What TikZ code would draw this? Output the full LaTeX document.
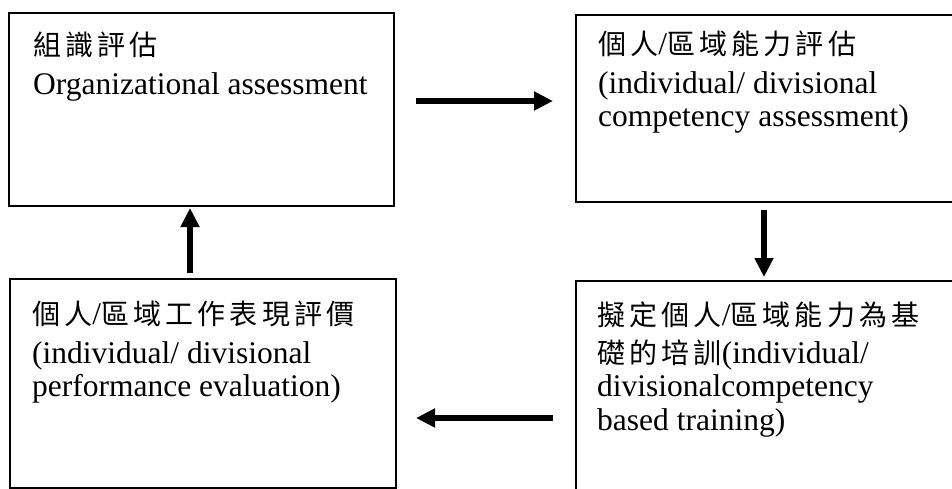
\documentclass[tikz,border=0pt]{standalone}
\usepackage{fontspec}
\setmainfont{Liberation Serif}
\newfontfamily\cjk[Scale=0.889,LetterSpace=15]{Noto Sans CJK TC}
\usetikzlibrary{arrows.meta}
\begin{document}
\begin{tikzpicture}[x=1pt,y=-1pt,
  box/.style={draw, line width=2.5pt, rectangle, inner sep=0pt},
  txt/.style={anchor=base west, align=left, inner sep=0pt,
              font=\fontsize{31.5}{33}\selectfont},
  arr/.style={line width=6pt, -{Triangle[length=19pt,width=18pt]}}]
\useasboundingbox (0,0) rectangle (952,489);
\clip (0,0) rectangle (952,489);
\fill[white] (0,0) rectangle (952,489);
% boxes
\node[box, minimum width=385pt, minimum height=193pt] (b1) at (201.5,109.5) {};
\node[box, minimum width=389pt, minimum height=187pt] (b2) at (770.5,108.5) {};
\node[box, minimum width=386pt, minimum height=209pt] (b3) at (203,383.5) {};
\node[box, minimum width=389pt, minimum height=219pt] (b4) at (770.5,390.5) {};
% texts (anchor = baseline of last line)
\node[txt] (t1) at (33,95) {{\cjk 組識評估}\\[6pt]Organizational assessment};
\node[txt] (t2) at (598,127) {{\cjk 個人}/{\cjk 區域能力評估}\\[6pt](individual/ divisional\\competency assessment)};
\node[txt] (t3) at (32,396) {{\cjk 個人}/{\cjk 區域工作表現評價}\\[6pt](individual/ divisional\\performance evaluation)};
\node[txt] (t4) at (597,430) {{\cjk 擬定個人}/{\cjk 區域能力為基}\\[5pt]{\cjk 礎的培訓}(individual/\\divisionalcompetency\\[1pt]based training)};
% arrow ends
\coordinate (a1s) at (416,101); \coordinate (a1e) at (553,101);
\coordinate (a2s) at (764,210); \coordinate (a2e) at (764,277);
\coordinate (a3s) at (553,418); \coordinate (a3e) at (416,418);
\coordinate (a4s) at (190,273); \coordinate (a4e) at (190,208);
\draw[arr] (a1s) -- (a1e);
\draw[arr] (a2s) -- (a2e);
\draw[arr] (a3s) -- (a3e);
\draw[arr] (a4s) -- (a4e);
\end{tikzpicture}
\end{document}
